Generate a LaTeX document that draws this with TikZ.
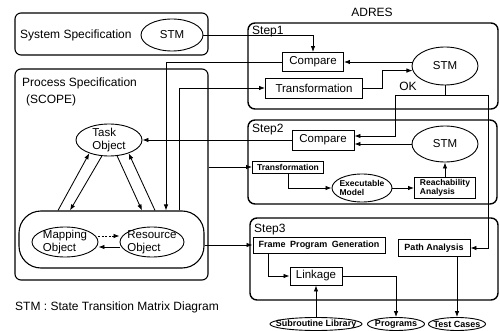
\documentclass[tikz,border=0pt]{standalone}
\usepackage{fontspec}
\setmainfont{Liberation Sans}
\usetikzlibrary{shapes.geometric,arrows.meta,calc}
\begin{document}
\begin{tikzpicture}[x=1pt,y=-1pt,
  container/.style={draw, line width=1.1pt, rounded corners=6pt, inner sep=0pt},
  stepbox/.style={draw, line width=1.4pt, rounded corners=7pt, inner sep=0pt},
  box/.style={draw, line width=0.9pt, inner sep=0pt, font=\fontsize{11.5}{13}\selectfont},
  oval/.style={draw, ellipse, line width=0.9pt, inner sep=-6pt, align=left, font=\fontsize{11.5}{12.5}\selectfont},
  lbl/.style={inner sep=0pt, font=\fontsize{12}{14}\selectfont},
  small/.style={font=\fontsize{8.5}{9.5}\selectfont\bfseries},
  smallnine/.style={font=\fontsize{9}{10}\selectfont\bfseries},
  conn/.style={line width=0.85pt},
  arr/.style={conn, -{Latex[length=6pt,width=4.5pt]}}
]
\useasboundingbox (0,0) rectangle (500,331);

% ---- left: system / process specification
\node[container, minimum width=193pt, minimum height=42pt] (sysbox) at (111.5,34) {};
\node[lbl, anchor=base west] (syslbl) at (20,39) {System Specification};
\node[oval, minimum width=62pt, minimum height=32pt] (sysstm) at (172,35) {STM};

\node[container, minimum width=193pt, minimum height=211pt] (procbox) at (111.5,174.5) {};
\node[lbl, anchor=base west] (proclbl) at (22,87) {Process Specification};
\node[lbl, anchor=base west] (scopelbl) at (26,104) {(SCOPE)};
\node[oval, minimum width=66pt, minimum height=32pt] (task) at (109,140) {Task\\Object};
\node[container, rounded corners=22pt, minimum width=185pt, minimum height=57pt] (inner) at (111.5,239.5) {};
\node[oval, minimum width=66pt, minimum height=30pt] (map) at (65,242) {Mapping\\Object};
\node[oval, minimum width=64pt, minimum height=30pt] (res) at (152,242) {Resource\\Object};

\node[lbl, anchor=west] (legend) at (15,307) {STM : State Transition Matrix Diagram};

% ---- right: ADRES
\node[lbl] (adres) at (372,12) {ADRES};

\node[stepbox, minimum width=250pt, minimum height=86pt] (step1) at (373,66) {};
\node[lbl, anchor=base west] (s1lbl) at (252,35) {Step1};
\node[box, minimum width=61pt, minimum height=19pt] (cmp1) at (313,62) {Compare};
\node[box, minimum width=97pt, minimum height=20pt] (tr1) at (314,88) {Transformation};
\node[oval, minimum width=66pt, minimum height=38pt] (stm1) at (445,66) {STM};
\node[lbl] (ok) at (408,86) {OK};

\node[stepbox, minimum width=249pt, minimum height=84pt] (step2) at (372.5,162) {};
\node[lbl, anchor=base west] (s2lbl) at (252,133) {Step2};
\node[box, minimum width=62pt, minimum height=20pt] (cmp2) at (323,140) {Compare};
\node[oval, minimum width=66pt, minimum height=36pt] (stm2) at (445,144) {STM};
\node[box, small, minimum width=71pt, minimum height=12pt] (tr2) at (288,167) {Transformation};
\node[oval, small, minimum width=60pt, minimum height=28pt] (exe) at (362,188) {Executable\\Model};
\node[box, small, align=left, minimum width=61pt, minimum height=21pt] (reach) at (445,188) {Reachability\\Analysis};

\node[stepbox, minimum width=248pt, minimum height=82pt] (step3) at (374,259) {};
\node[lbl, anchor=base west] (s3lbl) at (254,232) {Step3};
\node[box, smallnine, minimum width=132pt, minimum height=16pt] (frame) at (319,245) {Frame\enspace Program\enspace Generation};
\node[box, smallnine, minimum width=72pt, minimum height=17pt] (path) at (434,248) {Path Analysis};
\node[box, minimum width=52pt, minimum height=18pt] (link) at (316,276) {Linkage};
\node[oval, smallnine, inner xsep=-14pt, minimum width=92pt, minimum height=13pt] (sub) at (316,324) {Subroutine Library};
\node[oval, smallnine, inner xsep=-10pt, minimum width=57pt, minimum height=13pt] (prog) at (396,324) {Programs};
\node[oval, smallnine, inner xsep=-10pt, minimum width=57pt, minimum height=13pt] (test) at (457,324) {Test Cases};

% ---- connectors, step 1
\draw[arr] (sysstm.east) -| (cmp1.north);
\draw[arr] (cmp1.east -| stm1.west) -- (cmp1.east);
\draw[arr] (tr1.east) -- ++(19,0) |- (stm1.188);
\coordinate (j1) at (445,95);
\coordinate (jl) at (395,95);
\coordinate (jr) at (488,95);
\draw[conn] (stm1.south) -- (j1);
\draw[conn] (jl) -- (jr);
\draw[arr] (jl) |- ([yshift=4pt]cmp2.east);
\draw[arr] (jr) |- (path.east);

% ---- step 2
\draw[arr] (stm2.west |- 0,144) -- (cmp2.east |- 0,144);
\draw[arr] (cmp2.west) -- (task.east);
\draw[arr] (tr2.south) |- (exe.west);
\draw[arr] (exe.east) -- (reach.west);
\draw[arr] (reach.north) -- (stm2.south);

% ---- step 3
\draw[arr] ([xshift=-51pt]frame.south) |- (link.west);
\draw[arr] (link.east) -| (prog.north);
\draw[arr] (sub.north) -- (link.south);
\draw[arr] ([xshift=23pt]path.south) -- (test.north);

% ---- between process specification and ADRES
\draw[arr] (cmp1.west) -| ([xshift=54.5pt]inner.north);
\draw[arr] ([xshift=67.5pt]inner.north) |- (tr1.west);
\draw[arr] (procbox.east |- tr2.west) -- (tr2.west);
\draw[arr] (inner.east |- frame.west) -- (frame.west);

% ---- inside process specification
\draw[arr] ([xshift=-53.5pt]inner.north) -- (task.214);
\draw[arr] (task.246) -- ([xshift=-41.5pt]inner.north);
\draw[arr] (task.297) -- ([xshift=30.5pt]inner.north);
\draw[arr] ([xshift=43.5pt]inner.north) -- (task.326);
\draw[arr, dash pattern=on 2pt off 1.5pt] ([yshift=6pt]map.east) -- ([yshift=6pt]res.west);
\draw[arr] ([yshift=-5pt]res.west) -- ([yshift=-5pt]map.east);
\end{tikzpicture}
\end{document}
